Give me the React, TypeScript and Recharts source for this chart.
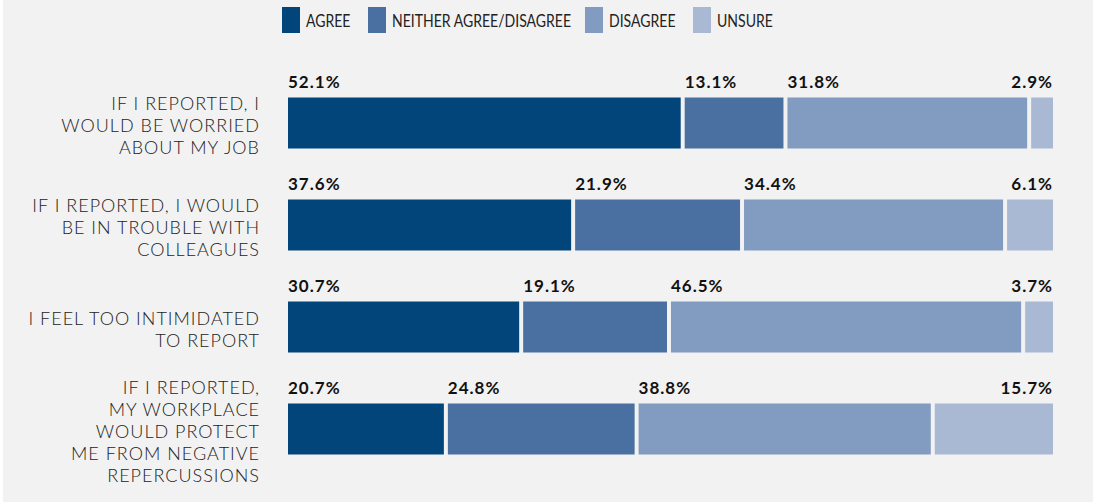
import React from "react";
import { BarChart, Bar, XAxis, YAxis, LabelList } from "recharts";

const categories = [
  "IF I REPORTED, I\nWOULD BE WORRIED\nABOUT MY JOB",
  "IF I REPORTED, I WOULD\nBE IN TROUBLE WITH\nCOLLEAGUES",
  "I FEEL TOO INTIMIDATED\nTO REPORT",
  "IF I REPORTED,\nMY WORKPLACE\nWOULD PROTECT\nME FROM NEGATIVE\nREPERCUSSIONS",
];
const agree = [52.1, 37.6, 30.7, 20.7];
const neither = [13.1, 21.9, 19.1, 24.8];
const disagree = [31.8, 34.4, 46.5, 38.8];
const unsure = [2.9, 6.1, 3.7, 15.7];

const seriesNames = ["AGREE", "NEITHER AGREE/DISAGREE", "DISAGREE", "UNSURE"];
const seriesColors = ["#02457a", "#4a6fa1", "#829bc0", "#a9b9d4"];
const seriesValues = [agree, neither, disagree, unsure];

const data = categories.map((name, i) => ({
  name,
  s0: agree[i],
  s1: neither[i],
  s2: disagree[i],
  s3: unsure[i],
}));

const GAP = 4;
const FONT = "Lato, 'Open Sans', sans-serif";
// the legend face in the original is a narrow one, so Lato is squeezed horizontally
const LEGEND_SQUEEZE = 0.78;
const legendSlots = [44, 175, 66, 56];

const CategoryTick = (props: any) => {
  const { y, payload } = props;
  const lines = String(payload.value).split("\n");
  const first = Number(y) - (lines.length - 1) * 11 + 9.5;
  return (
    <text
      x={260}
      y={first}
      textAnchor="end"
      fill="#222"
      fontFamily={FONT}
      fontWeight={300}
      fontSize={18}
      letterSpacing={1}
    >
      {lines.map((l, i) => (
        <tspan key={i} x={260} dy={i === 0 ? 0 : 22}>
          {l}
        </tspan>
      ))}
    </text>
  );
};

const makeShape = (i: number) => (props: any) => {
  const { x, y, width, height, fill } = props;
  return <rect x={Number(x) + i * GAP} y={y} width={Math.max(Number(width), 0)} height={height} fill={fill} />;
};

const makeLabel = (i: number) => (props: any) => {
  const { x, y, width, index } = props;
  const last = i === seriesValues.length - 1;
  const px = last ? Number(x) + Number(width) + i * GAP : Number(x) + i * GAP;
  return (
    <text
      x={px}
      y={Number(y) - 10}
      textAnchor={last ? "end" : "start"}
      fill="#111"
      fontFamily={FONT}
      fontWeight={700}
      fontSize={17}
      letterSpacing={1}
    >
      {seriesValues[i][index].toFixed(1)}%
    </text>
  );
};

const LegendBar = () => {
  let cx = 282;
  const items = seriesNames.map((n, i) => {
    const sx = cx;
    cx += 18 + 6 + legendSlots[i] + 18;
    return (
      <g key={n}>
        <rect x={sx} y={7} width={18} height={26} fill={seriesColors[i]} />
        <text
          transform={`translate(${sx + 24} 27) scale(${LEGEND_SQUEEZE} 1)`}
          fill="#222"
          fontFamily={FONT}
          fontWeight={400}
          fontSize={18}
        >
          {n}
        </text>
      </g>
    );
  });
  return (
    <svg width={1093} height={40} style={{ position: "absolute", left: 0, top: 0 }}>
      {items}
    </svg>
  );
};

export default function App() {
  return (
    <div style={{ position: "absolute", left: 0, top: 0, width: 1093, height: 503, background: "#fff" }}>
      <div style={{ position: "absolute", left: 3, top: 0, width: 1090, height: 502, background: "#f2f2f2" }} />
      <LegendBar />
      <div style={{ position: "absolute", left: 0, top: 0 }}>
        <BarChart
          width={1093}
          height={503}
          data={data}
          layout="vertical"
          stackOffset="expand"
          margin={{ top: 71.5, right: 52, bottom: 23.5, left: 0 }}
        >
          <XAxis type="number" domain={[0, 1]} hide />
          <YAxis
            type="category"
            dataKey="name"
            width={288}
            axisLine={false}
            tickLine={false}
            tick={<CategoryTick />}
            interval={0}
          />
          {seriesNames.map((n, i) => (
            <Bar
              key={n}
              dataKey={`s${i}`}
              name={n}
              stackId="a"
              fill={seriesColors[i]}
              barSize={51}
              shape={makeShape(i)}
              isAnimationActive={false}
            >
              <LabelList content={makeLabel(i)} />
            </Bar>
          ))}
        </BarChart>
      </div>
    </div>
  );
}
